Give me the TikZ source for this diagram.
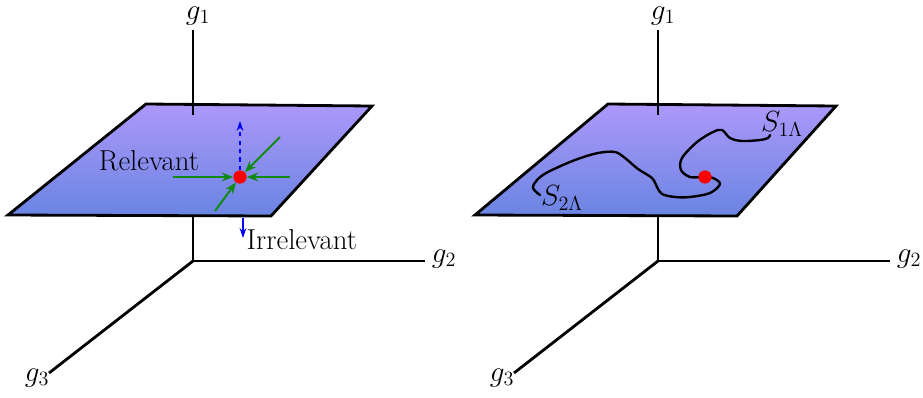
\documentclass[tikz,border=0pt]{standalone}
\usetikzlibrary{arrows.meta,positioning,calc}
\definecolor{planetop}{HTML}{AC98FA}
\definecolor{planebot}{HTML}{6A84E2}
\definecolor{flowgreen}{HTML}{118A11}

\begin{document}
\begin{tikzpicture}[x=0.025cm, y=-0.025cm,
  axis/.style={line width=2pt},
  plane/.style={draw, line width=2pt, top color=planetop, bottom color=planebot},
  lbl/.style={font=\fontsize{20.5}{24}\selectfont, inner sep=1pt},
  fixpt/.style={circle, fill=red, inner sep=0pt, minimum size=0.33cm},
  inarr/.style={-{Stealth[length=2.8mm, width=2.2mm]}, flowgreen, line width=1.4pt},
  outarr/.style={-{Stealth[length=2.5mm, width=1.7mm]}, blue, line width=1.4pt},
  flow/.style={line width=1.7pt, line cap=round}
]
  \useasboundingbox (0,0) rectangle (923,397);

  % left panel: fixed point with relevant and irrelevant directions
  \begin{scope}
    \coordinate (o) at (193,261);
    \coordinate (g1end) at (193,30);
    \coordinate (g1cut) at (193,115);
    \coordinate (g1low) at (193,216);
    \coordinate (g2end) at (425,261);
    \coordinate (g3end) at (49,373);
    \node[lbl, inner sep=0pt] (g1) at (198,16) {$g_1$};
    \node[lbl] (g2) at (444,259) {$g_2$};
    \node[lbl] (g3) at (37,378) {$g_3$};

    \draw[axis] (o) -- (g2end);
    \draw[axis] (o) -- (g3end);
    \draw[axis] (o) -- (g1low);
    \draw[plane] (146,104) -- (372,106) -- (271,216) -- (8,215) -- cycle;
    \draw[axis] (g1end) -- (g1cut);

    \node[fixpt] (fp) at (240,177) {};
    \coordinate (inL) at (173,177);
    \coordinate (inR) at (290,177);
    \coordinate (inUR) at (280,137);
    \coordinate (inDL) at (215,211);
    \coordinate (upEnd) at (240,121);
    \coordinate (dnStart) at (243,218);
    \coordinate (dnEnd) at (243,238);
    \draw[inarr] (inL) -- (fp);
    \draw[inarr] (inR) -- (fp);
    \draw[inarr] (inUR) -- (fp);
    \draw[inarr] (inDL) -- (fp);
    \draw[outarr, dashed] (fp) -- (upEnd);
    \draw[outarr] (dnStart) -- (dnEnd);

    \node[lbl] (rel) at (149,161) {Relevant};
    \node[lbl, anchor=west] (irr) at (245,240) {Irrelevant};
  \end{scope}

  % right panel: flow through the fixed point
  \begin{scope}[xshift=465*0.025cm]
    \coordinate (o) at (193,261);
    \coordinate (g1end) at (193,30);
    \coordinate (g1cut) at (193,115);
    \coordinate (g1low) at (193,216);
    \coordinate (g2end) at (425,261);
    \coordinate (g3end) at (49,373);
    \node[lbl, inner sep=0pt] (g1) at (198,16) {$g_1$};
    \node[lbl] (g2) at (444,259) {$g_2$};
    \node[lbl] (g3) at (37,378) {$g_3$};

    \draw[axis] (o) -- (g2end);
    \draw[axis] (o) -- (g3end);
    \draw[axis] (o) -- (g1low);
    \draw[plane] (143,104) -- (371,106) -- (272,216) -- (10,215) -- cycle;
    \draw[axis] (g1end) -- (g1cut);

    \draw[flow] plot[smooth, tension=0.55] coordinates {
      (75,195) (68,188) (72,180) (83,172) (110,160) (133,153) (150,152)
      (160,158) (173,169) (187,178) (192,187) (197,194) (210,197)
      (225,197) (245,193) (255,184) (248,178) (238,177) (225,177)
      (216,170) (217,158) (232,142) (248,132) (257,130) (265,138)
      (277,141) (295,140) (303,138) (305,135)};
    \node[fixpt] (fp) at (240,177) {};

    \node[lbl] (s1) at (317,124) {$S_{1\Lambda}$};
    \node[lbl] (s2) at (97,198) {$S_{2\Lambda}$};
  \end{scope}
\end{tikzpicture}
\end{document}
